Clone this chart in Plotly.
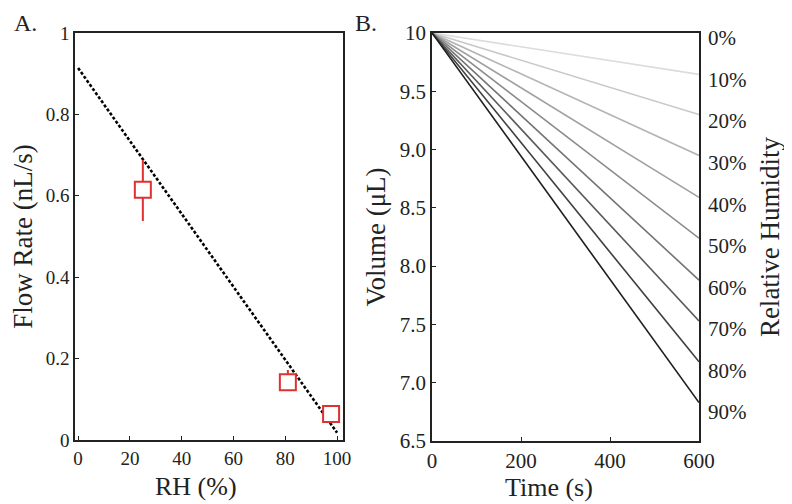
import plotly.graph_objects as go

# Panel A data
rh_points = [25, 81, 97.7]
flow_rate = [0.615, 0.142, 0.064]
flow_err_plus = [0.073, 0.030, 0.008]
flow_err_minus = [0.077, 0.012, 0.008]
fit_rh = [0, 100]
fit_flow = [0.914, 0.018]

# Panel B data
time_s = [0, 600]
rh_levels = ["10%", "20%", "30%", "40%", "50%", "60%", "70%", "80%", "90%"]
vol_end = [9.645, 9.30, 8.95, 8.59, 8.24, 7.88, 7.53, 7.18, 6.83]
line_colors = ["#dcdcdc", "#c8c8c8", "#b4b4b4", "#a0a0a0", "#8a8a8a",
               "#737373", "#5a5a5a", "#3e3e3e", "#1e1e1e"]
right_labels = ["0%", "10%", "20%", "30%", "40%", "50%", "60%", "70%", "80%", "90%"]
right_vals = [0, 10, 20, 30, 40, 50, 60, 70, 80, 90]

FONT = "Liberation Serif"
TXT = "#222222"

# page is offset by the default 8px body margin
OFF = 8
W, H = 792 - OFF, 504 - OFF


def px_x(X):
    return (X - OFF) / W


def px_y(Y):
    return 1 - (Y - OFF) / H


fig = go.Figure()

fig.add_trace(go.Scatter(x=fit_rh, y=fit_flow, mode="lines",
                         line=dict(color="black", width=2.6, dash="3px,2px"),
                         xaxis="x", yaxis="y", showlegend=False))
fig.add_trace(go.Scatter(x=rh_points, y=flow_rate, mode="markers",
                         marker=dict(symbol="square", size=16, color="white",
                                     line=dict(color="#e03030", width=2)),
                         error_y=dict(type="data", array=flow_err_plus,
                                      arrayminus=flow_err_minus, symmetric=False,
                                      color="#e03030", thickness=2, width=0),
                         xaxis="x", yaxis="y", showlegend=False))

for v, c in zip(vol_end, line_colors):
    fig.add_trace(go.Scatter(x=time_s, y=[10.0, v], mode="lines",
                             line=dict(color=c, width=1.6),
                             xaxis="x2", yaxis="y2", showlegend=False))

fig.add_trace(go.Scatter(x=[0], y=[50], mode="markers",
                         marker=dict(opacity=0), hoverinfo="skip",
                         xaxis="x2", yaxis="y3", showlegend=False))


def ax(tick_size, **kw):
    d = dict(showline=True, linecolor="#222222", linewidth=1.5, mirror=True,
             showgrid=False, zeroline=False, ticks="inside", ticklen=4,
             tickcolor="#222222", automargin=False,
             tickfont=dict(family=FONT, size=tick_size, color=TXT))
    d.update(kw)
    return d


TITLE_FONT = dict(family=FONT, size=27, color=TXT)


def label(text, X, Y, size=26):
    return dict(text=text, x=px_x(X), y=px_y(Y), xref="paper", yref="paper",
                xanchor="center", yanchor="middle", showarrow=False,
                font=dict(family=FONT, size=size, color=TXT))


fig.update_layout(
    width=W, height=H,
    margin=dict(l=0, r=0, t=0, b=0),
    plot_bgcolor="white", paper_bgcolor="white",
    xaxis=ax(19, domain=[px_x(75), px_x(343)], range=[-1.2, 102.3],
             tickvals=[0, 20, 40, 60, 80, 100], ticklabelstandoff=0, anchor="y"),
    yaxis=ax(19, domain=[px_y(440), px_y(33)], range=[0, 1.0],
             tickvals=[0, 0.2, 0.4, 0.6, 0.8, 1.0],
             ticktext=["0", "0.2", "0.4", "0.6", "0.8", "1"],
             title=dict(text="Flow Rate (nL/s)", standoff=18, font=TITLE_FONT), anchor="x"),
    xaxis2=ax(21, domain=[px_x(432), px_x(699)], range=[0, 600],
              tickvals=[0, 200, 400, 600], ticklabelstandoff=0, anchor="y2"),
    yaxis2=ax(21, domain=[px_y(441), px_y(33)], range=[6.5, 10.0],
              tickvals=[6.5, 7.0, 7.5, 8.0, 8.5, 9.0, 9.5, 10.0],
              ticktext=["6.5", "7.0", "7.5", "8.0", "8.5", "9.0", "9.5", "10"],
              title=dict(text="Volume (μL)", standoff=6, font=TITLE_FONT), anchor="x2"),
    yaxis3=dict(overlaying="y2", side="right", anchor="x2", automargin=False,
                range=[97.0, -1.2], tickvals=right_vals, ticktext=right_labels,
                showline=False, showgrid=False, zeroline=False, ticks="",
                ticklabelstandoff=8,
                tickfont=dict(family=FONT, size=21, color=TXT),
                title=dict(text="Relative Humidity", standoff=14, font=TITLE_FONT)),
    annotations=[
        label("RH (%)", 196, 486),
        label("Time (s)", 549, 487),
        label("A.", 25, 23, 24),
        label("B.", 366, 23, 24),
    ],
)

fig.write_html("out.html")
